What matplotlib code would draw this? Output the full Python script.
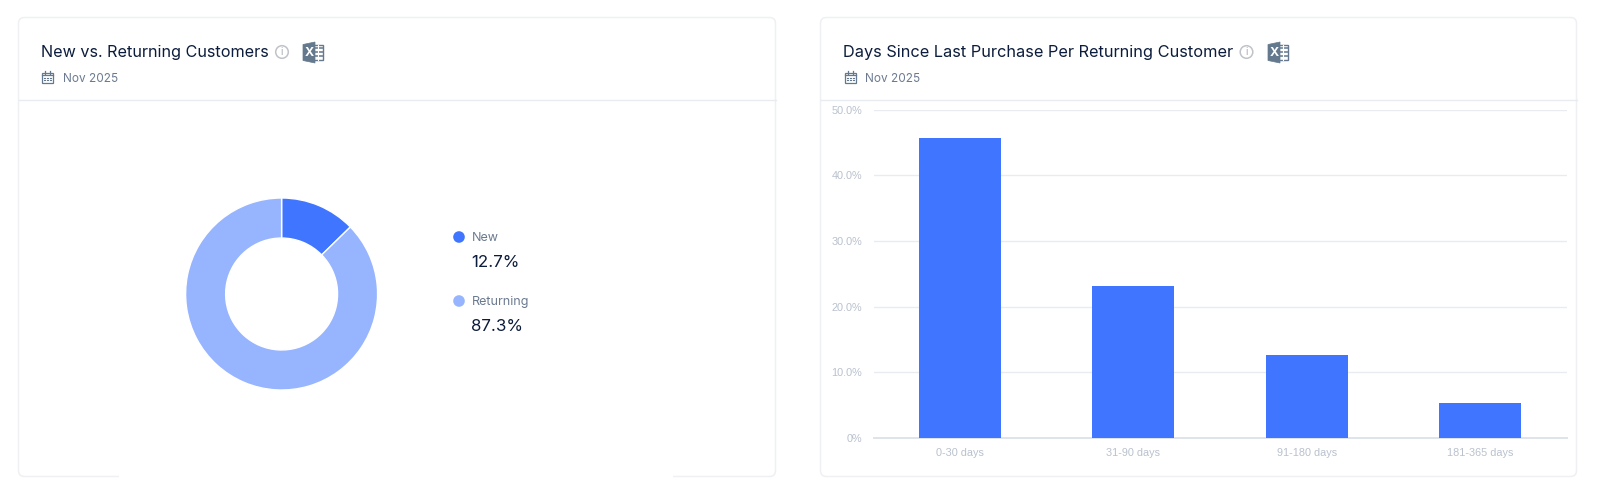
import matplotlib
matplotlib.use("Agg")
import matplotlib.pyplot as plt
from matplotlib.patches import Circle, FancyBboxPatch, Polygon, Rectangle

plt.rcParams['font.family'] = ['Inter', 'DejaVu Sans']

W, H = 1600, 494

# donut data
share_labels = ["New", "Returning"]
share_values = [12.7, 87.3]
share_colors = ["#3f75ff", "#97b4ff"]

# bar data
day_labels = ["0-30 days", "31-90 days", "91-180 days", "181-365 days"]
day_values = [45.6, 23.2, 12.6, 5.4]
y_ticks = [0, 10, 20, 30, 40, 50]
y_tick_labels = ["0%", "10.0%", "20.0%", "30.0%", "40.0%", "50.0%"]

title_left = "New vs. Returning Customers"
title_right = "Days Since Last Purchase Per Returning Customer"
period = "Nov 2025"

DARK = "#0c1c3c"
MUTED = "#6b7a90"
TICK = "#b9c1cd"
LINE = "#e8ebf0"
ICON = "#64798d"


def axes_px(x0, y0, x1, y1):
    # pixel box (y from the top) to figure fractions
    return fig.add_axes([x0 / W, 1 - y1 / H, (x1 - x0) / W, (y1 - y0) / H])


def draw_card(x0, x1):
    bg.add_patch(FancyBboxPatch((x0 + 6, 17.5 + 6), x1 - x0 - 12, 459 - 12,
                                boxstyle="round,pad=6,rounding_size=6",
                                fc="white", ec="#eef0f3", lw=1.1))
    bg.plot([x0, x1], [100, 100], color=LINE, lw=1)


def draw_calendar(x, y):
    bg.add_patch(Rectangle((x, y + 2), 11, 10, fc="white", ec=ICON, lw=0.9))
    bg.plot([x, x + 11], [y + 4.5, y + 4.5], color=ICON, lw=0.9)
    bg.plot([x + 3, x + 3], [y, y + 3], color=ICON, lw=0.9)
    bg.plot([x + 8, x + 8], [y, y + 3], color=ICON, lw=0.9)
    for dx in (2.5, 5.5, 8.5):
        for dy in (7, 9.5):
            bg.plot([x + dx - 0.6, x + dx + 0.6], [y + dy, y + dy], color=ICON, lw=0.8)


def draw_info(x, y):
    bg.add_patch(Circle((x, y), 6.3, fc="white", ec="#c0c3c8", lw=1.1))
    bg.text(x, y + 0.3, "i", color="#a5a8ae", fontsize=7, ha="center", va="center")


def draw_excel(x, y):
    bg.add_patch(Rectangle((x + 10, y + 3), 10, 15, fc="white", ec=ICON, lw=1))
    for gy in (7, 11, 15):
        bg.plot([x + 11, x + 19], [y + gy - 0.5, y + gy - 0.5], color=ICON, lw=1.4, alpha=0.8)
    bg.plot([x + 15, x + 15], [y + 3, y + 18], color="white", lw=0.8)
    bg.add_patch(Polygon([(x, y + 2.5), (x + 12, y), (x + 12, y + 21), (x, y + 18.5)],
                         closed=True, fc=ICON, ec=ICON, lw=0.5))
    bg.text(x + 6, y + 10.5, "X", color="white", fontsize=9, fontweight="bold",
            ha="center", va="center")


fig = plt.figure(figsize=(W / 100, H / 100), dpi=100, facecolor="white")

# background layer in pixel units for cards, headers and icons
bg = axes_px(0, 0, W, H)
bg.set_xlim(0, W)
bg.set_ylim(H, 0)
bg.axis("off")

draw_card(18.5, 775.5)
draw_card(820.5, 1576.5)
# the reference has the bottom border of the left card masked out here
bg.add_patch(Rectangle((119, 470), 554, 12, fc="white", ec="none", zorder=5))

bg.text(41, 52, title_left, color=DARK, fontsize=11.65, va="center", ha="left")
draw_info(282, 52)
draw_excel(303, 42)
draw_calendar(42, 71)
bg.text(63, 78.5, period, color=MUTED, fontsize=8.5, va="center", ha="left")

bg.text(843, 52, title_right, color=DARK, fontsize=11.78, va="center", ha="left")
draw_info(1246.5, 52)
draw_excel(1268, 42)
draw_calendar(845, 71)
bg.text(865, 78.5, period, color=MUTED, fontsize=8.5, va="center", ha="left")

# donut
pie_ax = axes_px(185.6, 198, 377.6, 390)
pie_ax.pie(share_values, colors=share_colors, startangle=90, counterclock=False,
           radius=1, wedgeprops={"width": 0.417, "edgecolor": "white", "linewidth": 1})
pie_ax.set_xlim(-1, 1)
pie_ax.set_ylim(-1, 1)

# legend
for i, (name, val, col) in enumerate(zip(share_labels, share_values, share_colors)):
    y = 237 + 64 * i
    bg.add_patch(Circle((459, y), 5.8, fc=col, ec="none"))
    bg.text(471.5, y + 0.5, name, color=MUTED, fontsize=9, va="center", ha="left")
    bg.text(471.5, y + 25.5, f"{val}%", color=DARK, fontsize=12.2, va="center", ha="left")

# bars
ax = axes_px(873.5, 109.5, 1566.5, 438)
ax.patch.set_alpha(0)
ax.bar(range(len(day_values)), day_values, width=0.473, color=share_colors[0], zorder=3)
ax.set_xlim(-0.5, 3.5)
ax.set_ylim(0, 50)
ax.set_yticks(y_ticks)
ax.set_yticklabels(y_tick_labels)
ax.set_xticks(range(len(day_labels)))
ax.set_xticklabels(day_labels)
ax.tick_params(axis="both", length=0, colors=TICK, labelsize=7.8,
               labelfontfamily="Liberation Sans")
ax.tick_params(axis="x", pad=7)
ax.tick_params(axis="y", pad=8)
ax.grid(axis="y", color=LINE, lw=1, zorder=0)
for side in ("top", "left", "right"):
    ax.spines[side].set_visible(False)
ax.spines["bottom"].set_color("#dfe3ea")
ax.spines["bottom"].set_linewidth(1.4)

fig.savefig("out.png", dpi=100, facecolor="white")
